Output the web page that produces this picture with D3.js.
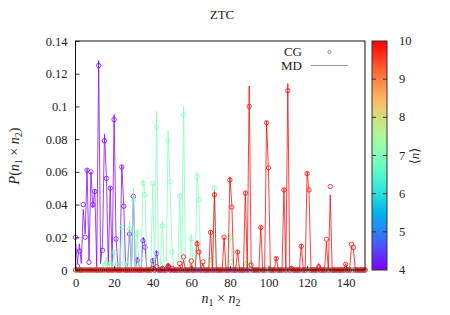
<!DOCTYPE html>
<html><head><meta charset="utf-8">
<script src="https://cdn.jsdelivr.net/npm/d3@7"></script>
<style>
body{margin:0;background:#fff;}
svg text{font-family:"Liberation Serif","DejaVu Serif",serif;fill:#222;}
</style></head>
<body><svg id="c" width="450" height="315"></svg>
<script>
// ---- data: [n1*n2, probability]; products not listed are zero ----
const xTicks = [0,20,40,60,80,100,120,140];
const yTicks = [0,0.02,0.04,0.06,0.08,0.1,0.12,0.14];
const cbTicks = [4,5,6,7,8,9,10];
const seriesN = [4,7,10];   // <n> of each series

const cg4 = [[0,0.020],[1,0.0024],[2,0.0116],[4,0.040],[5,0.020],[6,0.061],[7,0.0047],[8,0.060],[9,0.040],[10,0.048],[12,0.125],[14,0.012],[15,0.079],[16,0.056],[18,0.050],[20,0.092],[21,0.019],[24,0.063],[25,0.039],[28,0.022],[30,0.045],[32,0.006],[35,0.018],[36,0.014],[40,0.0057],[42,0.010],[48,0.0024]];
const md4 = [[0,0.018],[1,0.004],[2,0.016],[3,0.004],[4,0.037],[5,0.022],[6,0.062],[7,0.006],[8,0.060],[9,0.038],[10,0.049],[11,0.002],[12,0.128],[13,0.004],[14,0.016],[15,0.083],[16,0.058],[17,0.003],[18,0.051],[19,0.002],[20,0.095],[21,0.020],[22,0.002],[24,0.064],[25,0.040],[26,0.001],[27,0.003],[28,0.025],[30,0.047],[32,0.008],[33,0.002],[35,0.020],[36,0.016],[40,0.007],[42,0.012],[45,0.002],[48,0.003]];

const cg7 = [[15,0.003],[16,0.004],[18,0.004],[20,0.011],[21,0.003],[24,0.026],[25,0.004],[27,0.003],[28,0.025],[30,0.043],[32,0.022],[33,0.003],[35,0.053],[36,0.046],[40,0.053],[42,0.087],[44,0.003],[45,0.027],[48,0.079],[49,0.054],[50,0.011],[54,0.045],[56,0.095],[60,0.019],[63,0.057],[64,0.043],[66,0.003],[70,0.006],[72,0.050],[77,0.002],[80,0.020],[81,0.005],[84,0.002],[88,0.004],[90,0.005]];
const md7 = [[15,0.005],[16,0.008],[18,0.006],[20,0.012],[24,0.028],[25,0.006],[27,0.005],[28,0.030],[30,0.050],[32,0.025],[35,0.055],[36,0.047],[40,0.053],[42,0.097],[44,0.004],[45,0.030],[48,0.085],[49,0.052],[50,0.013],[54,0.047],[56,0.100],[60,0.022],[63,0.060],[64,0.040],[66,0.004],[70,0.008],[72,0.052],[80,0.022],[81,0.008],[84,0.003],[88,0.005],[90,0.005],[96,0.002],[99,0.003],[100,0.003]];

const cg10 = [[40,0.001],[42,0.002],[45,0.001],[48,0.0024],[50,0.001],[54,0.004],[56,0.008],[60,0.0055],[63,0.016],[64,0.011],[66,0.005],[70,0.023],[72,0.046],[77,0.020],[80,0.055],[81,0.0385],[84,0.011],[88,0.047],[90,0.100],[91,0.003],[96,0.026],[99,0.090],[100,0.0625],[104,0.007],[108,0.049],[110,0.1096],[112,0.001],[117,0.0145],[120,0.059],[121,0.049],[126,0.002],[130,0.0188],[132,0.051],[140,0.0035],[143,0.0157],[144,0.0139]];
const md10 = [[48,0.004],[54,0.003],[56,0.006],[60,0.004],[63,0.018],[64,0.012],[66,0.004],[70,0.024],[72,0.048],[77,0.020],[80,0.057],[81,0.040],[84,0.012],[88,0.048],[90,0.1125],[91,0.004],[96,0.027],[99,0.091],[100,0.060],[104,0.008],[108,0.050],[110,0.114],[112,0.002],[117,0.016],[120,0.060],[121,0.048],[126,0.004],[130,0.017],[132,0.046],[140,0.004],[143,0.014],[144,0.013]];

const cgSets = [cg4, cg7, cg10];
const mdSets = [md4, md7, md10];

// ---- layout ----
const svg = d3.select("#c");
const L=75.5, R=365, T=41, B=270;
const x = d3.scaleLinear().domain([0,150]).range([L,R]);
const y = d3.scaleLinear().domain([0,0.14]).range([B,T]);
const cb = d3.scaleLinear().domain([4,10]).range([B,T]);

// gnuplot rgbformulae 33,13,10 palette
function pal(v){
  const t=(v-4)/6;
  const r=Math.min(1,Math.abs(2*t-0.5)), g=Math.max(0,Math.sin(Math.PI*t)), b=Math.max(0,Math.cos(Math.PI*t/2));
  return d3.rgb(r*255,g*255,b*255).formatHex();
}
function fill(sparse){
  const m=new Map(sparse.map(d=>[d[0],d[1]]));
  return d3.range(0,151).map(k=>[k, m.has(k)?m.get(k):0]);
}

// title
svg.append("text").attr("x",222).attr("y",19).attr("text-anchor","middle").attr("font-size",13).text("ZTC");

const plot = svg.append("g");
const line = d3.line().x(d=>x(d[0])).y(d=>y(d[1]));
seriesN.forEach((n,i)=>{
  const col = pal(n);
  plot.append("path").datum(fill(mdSets[i])).attr("d",line)
    .attr("fill","none").attr("stroke",col).attr("stroke-width",1).attr("stroke-opacity",0.75);
  plot.append("g").selectAll("circle").data(fill(cgSets[i])).join("circle")
    .attr("cx",d=>x(d[0])).attr("cy",d=>y(d[1])).attr("r",2.2)
    .attr("fill","none").attr("stroke",col).attr("stroke-width",0.9).attr("stroke-opacity",0.85);
});

// axes
const ax = svg.append("g").attr("transform",`translate(0,${B})`)
  .call(d3.axisBottom(x).tickValues(xTicks).tickSizeInner(-4).tickSizeOuter(0).tickPadding(8).tickFormat(d3.format("d")));
const ay = svg.append("g").attr("transform",`translate(${L},0)`)
  .call(d3.axisLeft(y).tickValues(yTicks).tickSizeInner(-4).tickSizeOuter(0).tickPadding(8).tickFormat(d=>d===0?"0":String(+d.toFixed(2))));
[ax,ay].forEach(a=>{
  a.select(".domain").remove();
  a.selectAll("text").attr("font-size",12.5).attr("font-family","Liberation Serif, serif").attr("fill","#222");
  a.selectAll("line").attr("stroke","#333");
});
svg.append("rect").attr("x",L).attr("y",T).attr("width",R-L).attr("height",B-T)
  .attr("fill","none").attr("stroke","#111").attr("stroke-width",1);

// legend
svg.append("text").attr("x",302).attr("y",56).attr("text-anchor","end").attr("font-size",13).text("CG");
svg.append("text").attr("x",302).attr("y",69.5).attr("text-anchor","end").attr("font-size",13).text("MD");
svg.append("circle").attr("cx",329.5).attr("cy",52).attr("r",1.6).attr("fill","none").attr("stroke","#888").attr("stroke-width",0.9);
svg.append("line").attr("x1",311).attr("x2",348).attr("y1",65.5).attr("y2",65.5).attr("stroke","#999").attr("stroke-width",1);

// axis labels
const yl = svg.append("text").attr("transform","translate(19,156) rotate(-90)").attr("text-anchor","middle").attr("font-size",14);
yl.append("tspan").attr("font-style","italic").text("P");
yl.append("tspan").text("(");
yl.append("tspan").attr("font-style","italic").text("n");
yl.append("tspan").attr("font-size",10).attr("dy",3).text("1");
yl.append("tspan").attr("dy",-3).text(" × ");
yl.append("tspan").attr("font-style","italic").text("n");
yl.append("tspan").attr("font-size",10).attr("dy",3).text("2");
yl.append("tspan").attr("dy",-3).text(")");

const xl = svg.append("text").attr("x",221).attr("y",303).attr("text-anchor","middle").attr("font-size",14);
xl.append("tspan").attr("font-style","italic").text("n");
xl.append("tspan").attr("font-size",10).attr("dy",3).text("1");
xl.append("tspan").attr("dy",-3).text(" × ");
xl.append("tspan").attr("font-style","italic").text("n");
xl.append("tspan").attr("font-size",10).attr("dy",3).text("2");

// colour bar
const CL=372, CR=387;
const grad = svg.append("defs").append("linearGradient").attr("id","cbg")
  .attr("x1",0).attr("y1",1).attr("x2",0).attr("y2",0);
d3.range(0,1.0001,0.05).forEach(t=>{
  grad.append("stop").attr("offset",t).attr("stop-color",pal(4+6*t));
});
svg.append("rect").attr("x",CL).attr("y",T).attr("width",CR-CL).attr("height",B-T).attr("fill","url(#cbg)");
svg.append("rect").attr("x",CL).attr("y",T).attr("width",CR-CL).attr("height",B-T).attr("fill","none").attr("stroke","#333").attr("stroke-width",1);
const cbg = svg.append("g");
cbg.selectAll("line.l").data(cbTicks.slice(1,-1)).join("line")
  .attr("x1",CL).attr("x2",CL+4).attr("y1",d=>cb(d)).attr("y2",d=>cb(d)).attr("stroke","#333");
cbg.selectAll("line.r").data(cbTicks.slice(1,-1)).join("line")
  .attr("x1",CR-4).attr("x2",CR).attr("y1",d=>cb(d)).attr("y2",d=>cb(d)).attr("stroke","#333");
cbg.selectAll("text").data(cbTicks).join("text")
  .attr("x",399).attr("y",d=>cb(d)+4).attr("font-size",12.5).text(d=>d);
const cl = svg.append("text").attr("transform","translate(419,156) rotate(-90)").attr("text-anchor","middle").attr("font-size",13);
cl.append("tspan").text("⟨");
cl.append("tspan").attr("font-style","italic").text("n");
cl.append("tspan").text("⟩");
</script></body></html>
